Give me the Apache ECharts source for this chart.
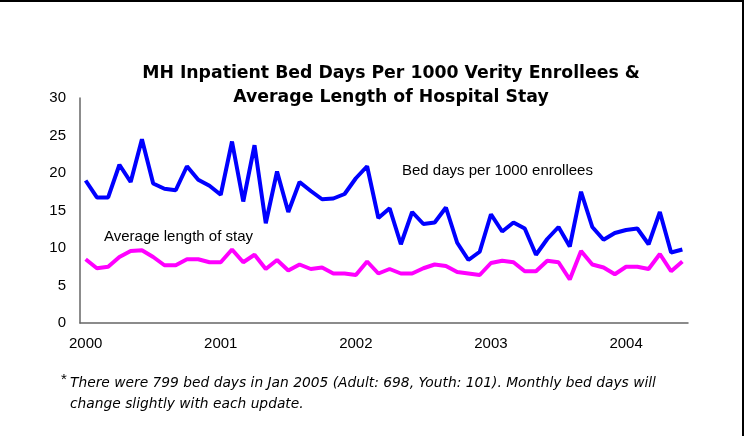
<!DOCTYPE html>
<html>
<head>
<meta charset="utf-8">
<script src="https://cdn.jsdelivr.net/npm/echarts@6/dist/echarts.min.js"></script>
<style>
  html, body { margin: 0; padding: 0; background: #fff; }
  #chart { width: 744px; height: 436px; }
</style>
</head>
<body>
<div id="chart"></div>
<script>
// ---- data ----
const years = [2000, 2001, 2002, 2003, 2004];
const monthsInLastYear = 6; // Jan–Jun 2004
const categories = [];
years.forEach(function (y, i) {
  const n = (i === years.length - 1) ? monthsInLastYear : 12;
  for (let m = 1; m <= n; m++) categories.push(y + '-' + (m < 10 ? '0' + m : m));
});

const bedDaysPer1000 = [
  19.0, 16.75, 16.75, 21.1, 18.8, 24.5, 18.6, 17.9, 17.7, 20.9, 19.1, 18.3,
  17.1, 24.2, 16.2, 23.7, 13.3, 20.2, 14.8, 18.8, 17.6, 16.5, 16.6, 17.2,
  19.3, 20.9, 14.0, 15.3, 10.5, 14.8, 13.2, 13.4, 15.4, 10.7, 8.4, 9.5,
  14.5, 12.2, 13.4, 12.6, 9.1, 11.2, 12.8, 10.2, 17.5, 12.8, 11.1, 12.0,
  12.4, 12.6, 10.5, 14.8, 9.4, 9.8
];
const avgLengthOfStay = [
  8.5, 7.3, 7.5, 8.8, 9.6, 9.7, 8.8, 7.7, 7.7, 8.5, 8.5, 8.1,
  8.1, 9.8, 8.1, 9.1, 7.2, 8.4, 7.0, 7.8, 7.2, 7.4, 6.6, 6.6,
  6.4, 8.2, 6.6, 7.2, 6.6, 6.6, 7.3, 7.8, 7.6, 6.8, 6.6, 6.4,
  8.0, 8.3, 8.1, 6.9, 6.9, 8.3, 8.1, 5.8, 9.6, 7.8, 7.4, 6.5,
  7.5, 7.5, 7.2, 9.2, 6.9, 8.2
];
const yTicks = [0, 5, 10, 15, 20, 25, 30];
const titleLines = ['MH Inpatient Bed Days Per 1000 Verity Enrollees &', 'Average Length of Hospital Stay'];
const seriesNames = ['Bed days per 1000 enrollees', 'Average length of stay'];
const footnote = ['There were 799 bed days in Jan 2005 (Adult: 698, Youth: 101). Monthly bed days will', 'change slightly with each update.'];

// ---- chart ----
const FONT = 'Liberation Sans, Arial, sans-serif';
const WIDE = 'DejaVu Sans, Liberation Sans, sans-serif';
const chart = echarts.init(document.getElementById('chart'), null, { renderer: 'canvas' });
chart.setOption({
  backgroundColor: '#ffffff',
  animation: false,
  title: {
    text: titleLines.join('\n'),
    left: 386,
    top: 57,
    textAlign: 'center',
    textStyle: { fontFamily: WIDE, fontSize: 17.3, fontWeight: 'bold', color: '#000', lineHeight: 24 }
  },
  grid: { left: 80, right: 56, top: 98, bottom: 113, containLabel: false },
  xAxis: {
    type: 'category',
    data: categories,
    boundaryGap: true,
    axisLine: { show: true, lineStyle: { color: '#666', width: 1.5 } },
    axisTick: { show: false },
    splitLine: { show: false },
    axisLabel: {
      interval: function (i) { return i % 12 === 0; },
      formatter: function (v) { return v.slice(0, 4); },
      fontFamily: FONT, fontSize: 15, color: '#000', margin: 13
    }
  },
  yAxis: {
    type: 'value',
    min: yTicks[0],
    max: yTicks[yTicks.length - 1],
    interval: 5,
    axisLine: { show: true, lineStyle: { color: '#666', width: 1.5 } },
    axisTick: { show: false },
    splitLine: { show: false },
    axisLabel: { fontFamily: FONT, fontSize: 15, color: '#000', margin: 14 }
  },
  series: [
    {
      name: seriesNames[0], type: 'line', data: bedDaysPer1000,
      symbol: 'none', lineStyle: { color: '#0000FF', width: 4 }, itemStyle: { color: '#0000FF' }
    },
    {
      name: seriesNames[1], type: 'line', data: avgLengthOfStay,
      symbol: 'none', lineStyle: { color: '#FF00FF', width: 4 }, itemStyle: { color: '#FF00FF' }
    }
  ],
  graphic: [
    { type: 'rect', left: 0, top: 0, shape: { width: 744, height: 2 }, style: { fill: '#000' }, silent: true },
    { type: 'rect', left: 742, top: 0, shape: { width: 2, height: 436 }, style: { fill: '#000' }, silent: true },
    { type: 'text', left: 402, top: 163, style: { text: seriesNames[0], font: '15px ' + FONT, fill: '#000' } },
    { type: 'text', left: 104, top: 229, style: { text: seriesNames[1], font: '15px ' + FONT, fill: '#000' } },
    { type: 'text', left: 61, top: 372, style: { text: '*', font: '15px ' + FONT, fill: '#000' } },
    { type: 'text', left: 70, top: 376, style: { text: footnote[0], font: 'italic 13.8px ' + WIDE, fill: '#000' } },
    { type: 'text', left: 70, top: 397, style: { text: footnote[1], font: 'italic 13.8px ' + WIDE, fill: '#000' } }
  ]
});
</script>
</body>
</html>
